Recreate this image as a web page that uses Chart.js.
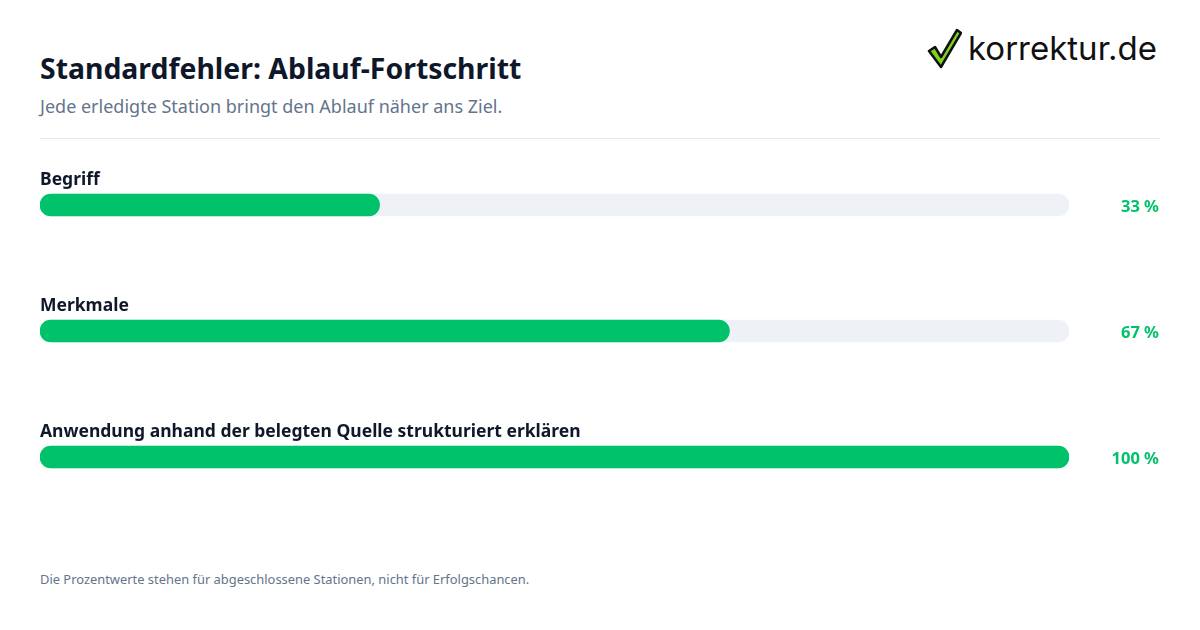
<!DOCTYPE html>
<html><head><meta charset="utf-8">
<script src="https://cdn.jsdelivr.net/npm/chart.js@4/dist/chart.umd.min.js"></script>
<style>
body{margin:0;width:1200px;height:630px;background:#fff;font-family:"Noto Sans",sans-serif;position:relative;overflow:hidden}
h1{position:absolute;left:40px;top:49px;margin:0;font-size:28.4px;font-weight:700;color:#0f172a}
.sub{position:absolute;left:40px;top:94px;font-size:18px;color:#64748b}
.hr{position:absolute;left:40px;top:138px;width:1120px;height:1px;background:#e2e8f0}
.logo{position:absolute;left:926px;top:27px;display:flex;align-items:center}
.logo span{font-family:Inter,sans-serif;font-weight:400;font-size:33px;color:#111;margin-left:6px}
.foot{position:absolute;left:40px;top:570px;font-size:12.9px;color:#64748b}
#wrap{position:absolute;left:40px;top:142px;width:1120px;height:378px}
</style></head><body>
<h1>Standardfehler: Ablauf-Fortschritt</h1>
<div class="sub">Jede erledigte Station bringt den Ablauf näher ans Ziel.</div>
<div class="hr"></div>
<div class="logo"><svg width="36" height="42" viewBox="0 0 36 42"><path d="M3 24 L9 20 L15 30 L31 3 L35 6 L15 40 Z" fill="#7ed321" stroke="#111" stroke-width="2.5" stroke-linejoin="round"/></svg><span>korrektur.de</span></div>
<div id="wrap"><canvas id="c"></canvas></div>
<div class="foot">Die Prozentwerte stehen für abgeschlossene Stationen, nicht für Erfolgschancen.</div>
<script>
const stationen = ['Begriff', 'Merkmale', 'Anwendung anhand der belegten Quelle strukturiert erklären'];
const fortschritt = [33, 67, 100];
const gesamt = [100, 100, 100];

const beschriftung = {
    id: 'beschriftung',
    afterDatasetsDraw(chart) {
        const ctx = chart.ctx;
        const meta = chart.getDatasetMeta(0);
        ctx.save();
        meta.data.forEach((bar, i) => {
            ctx.font = 'bold 17.5px "Noto Sans"';
            ctx.fillStyle = '#0f172a';
            ctx.textAlign = 'left';
            ctx.textBaseline = 'alphabetic';
            ctx.fillText(stationen[i], 0, bar.y - 20);
            ctx.font = 'bold 16.5px "Noto Sans"';
            ctx.fillStyle = '#00c26b';
            ctx.textAlign = 'right';
            ctx.textBaseline = 'middle';
            ctx.fillText(fortschritt[i] + ' %', chart.width - 1, bar.y + 2);
        });
        ctx.restore();
    }
};

new Chart(document.getElementById('c'), {
    type: 'bar',
    data: {
        labels: stationen,
        datasets: [
            { data: fortschritt, backgroundColor: '#00c26b', grouped: false, barThickness: 22, borderRadius: 11, borderSkipped: false },
            { data: gesamt, backgroundColor: '#eef2f7', grouped: false, barThickness: 22, borderRadius: 11, borderSkipped: false }
        ]
    },
    options: {
        indexAxis: 'y',
        responsive: true,
        maintainAspectRatio: false,
        animation: false,
        layout: { padding: { left: 0, right: 91, top: 0, bottom: 0 } },
        scales: {
            x: { display: false, min: 0, max: 100 },
            y: { display: false }
        },
        plugins: { legend: { display: false }, tooltip: { enabled: false } }
    },
    plugins: [beschriftung]
});
</script>
</body></html>
